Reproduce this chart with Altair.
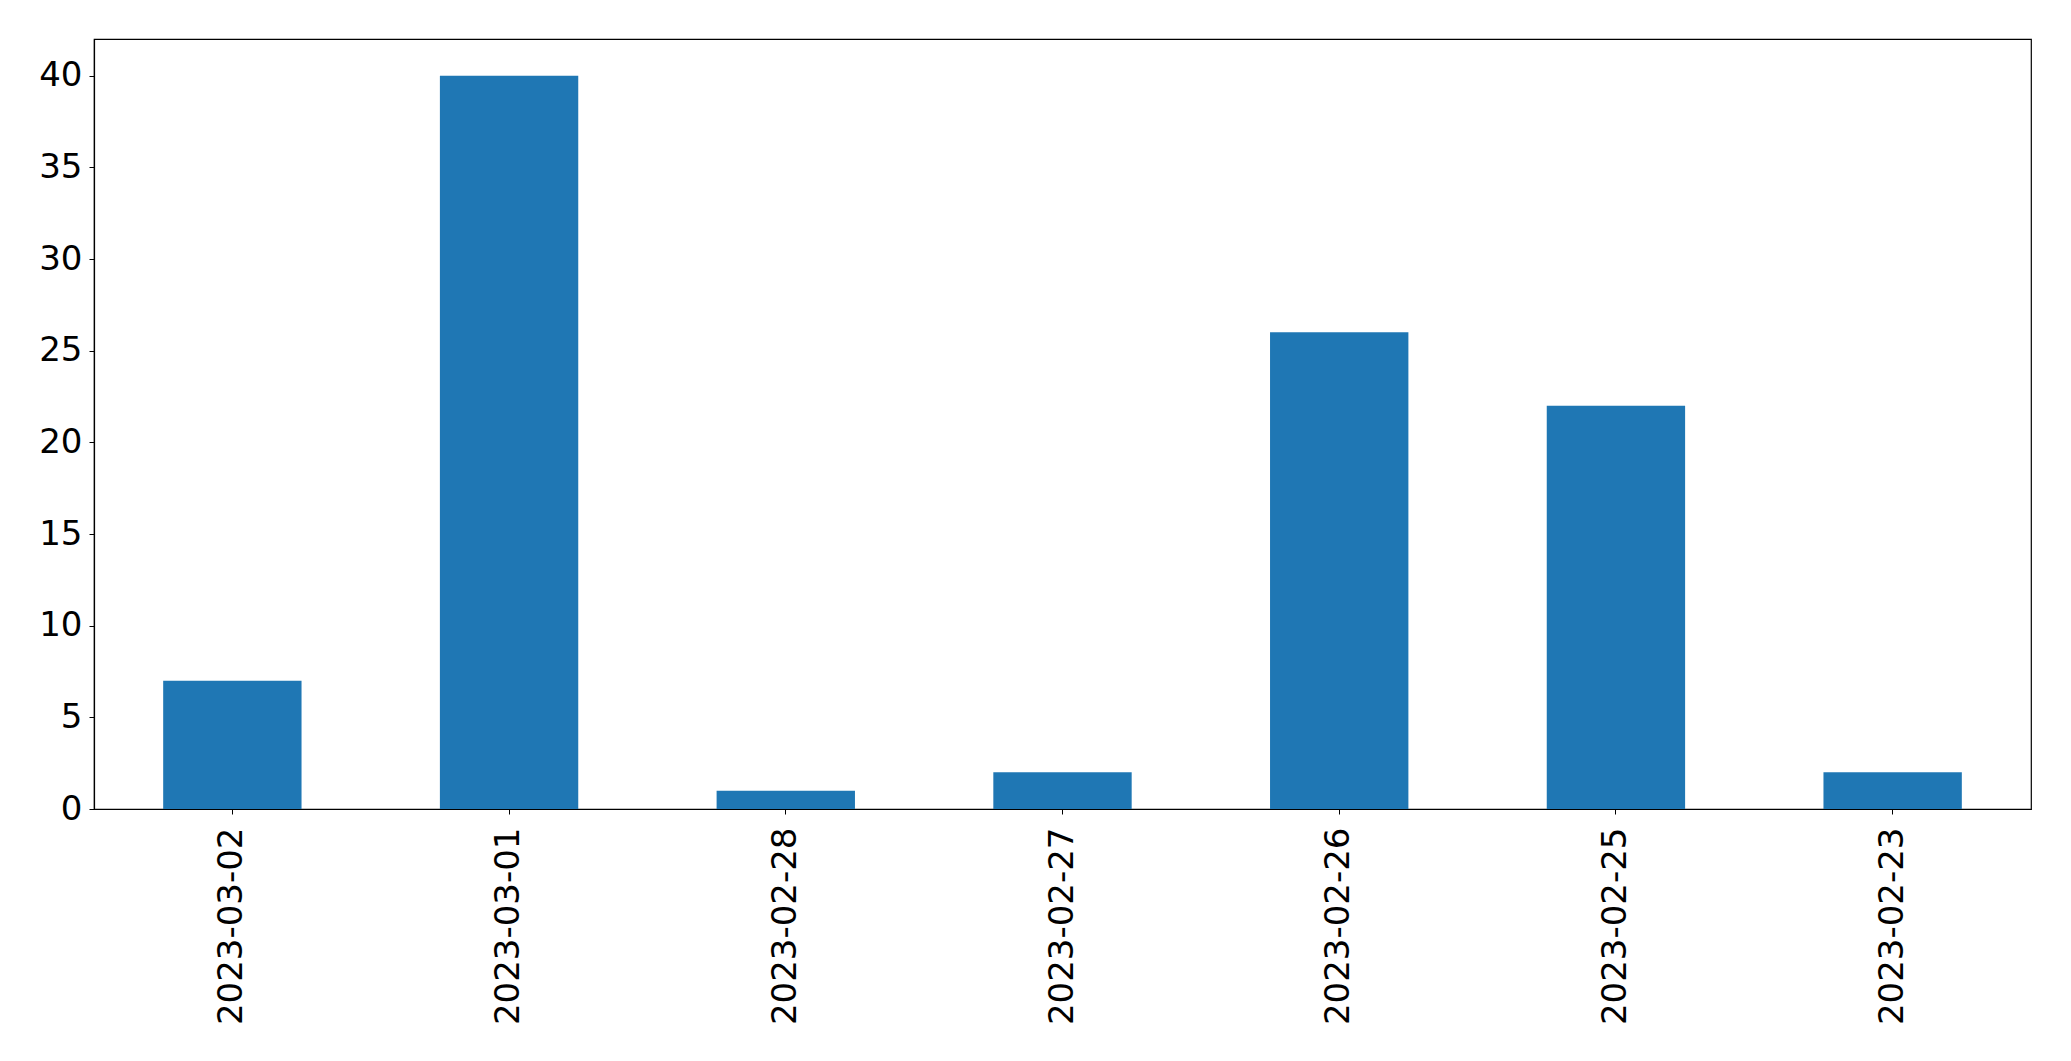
import altair as alt
import pandas as pd

dates = ["2023-03-02", "2023-03-01", "2023-02-28", "2023-02-27", "2023-02-26", "2023-02-25", "2023-02-23"]
counts = [7, 40, 1, 2, 26, 22, 2]

df = pd.DataFrame({"date": dates, "count": counts})

chart = alt.Chart(df).mark_bar(color="#1f77b4").encode(
    x=alt.X("date:N", sort=dates, title=None,
            scale=alt.Scale(paddingInner=0.5, paddingOuter=0.25),
            axis=alt.Axis(labelAngle=270, labelFont="DejaVu Sans", labelFontSize=34,
                          labelColor="black", tickColor="black", tickSize=5,
                          labelPadding=13, labelLimit=0, domainColor="black",
                          domainWidth=1.2, grid=False)),
    y=alt.Y("count:Q", title=None,
            scale=alt.Scale(domain=[0, 42], nice=False),
            axis=alt.Axis(values=[0, 5, 10, 15, 20, 25, 30, 35, 40],
                          labelFont="DejaVu Sans", labelFontSize=34,
                          labelColor="black", tickColor="black", tickSize=5,
                          labelPadding=7, domainColor="black", domainWidth=1.2,
                          grid=False)),
).properties(
    width=1937, height=770,
    background="white",
    autosize=alt.AutoSizeParams(type="none"),
    padding={"left": 86, "top": 31, "right": 30, "bottom": 240},
).configure_view(stroke="black", strokeWidth=1.2)

chart.save("out.html", embed_options={"renderer": "svg", "actions": False})
